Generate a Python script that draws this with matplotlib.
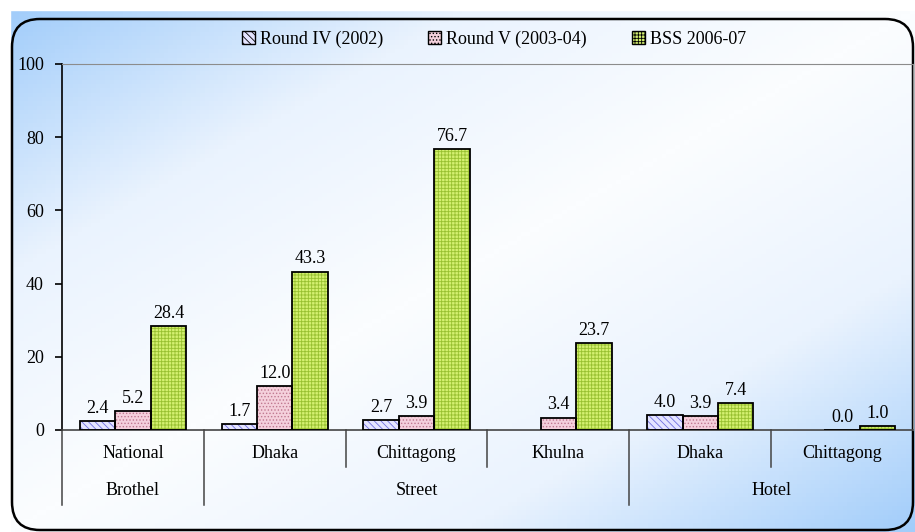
import numpy as np
import matplotlib
matplotlib.use("Agg")
import matplotlib.pyplot as plt
from matplotlib.patches import FancyBboxPatch, Patch
from matplotlib.colors import LinearSegmentedColormap
import matplotlib.transforms as mtransforms

# dati
cities = ['National', 'Dhaka', 'Chittagong', 'Khulna', 'Dhaka', 'Chittagong']
groups = ['Brothel', 'Street', 'Hotel']
group_span = [(0, 0), (1, 3), (4, 5)]
series_names = ['Round IV (2002)', 'Round V (2003-04)', 'BSS 2006-07']
round4 = [2.4, 1.7, 2.7, np.nan, 4.0, np.nan]
round5 = [5.2, 12.0, 3.9, 3.4, 3.9, 0.0]
bss = [28.4, 43.3, 76.7, 23.7, 7.4, 1.0]

plt.rcParams['font.family'] = 'Liberation Serif'
plt.rcParams['hatch.linewidth'] = 0.6
FS = 13

W, H = 915, 532
fig = plt.figure(figsize=(W / 100, H / 100), dpi=100)

# sfondo sfumato + cornice arrotondata
bg = fig.add_axes([0, 0, 1, 1], zorder=0)
bg.set_xlim(0, W)
bg.set_ylim(H, 0)
bg.axis('off')
xx, yy = np.meshgrid(np.linspace(0, 1, 200), np.linspace(0, 1, 120))
t = np.abs((xx + yy) / 2 - 0.5) * 2
cmap = LinearSegmentedColormap.from_list('bg', ['#fbfdff', '#eaf3fe', '#a2cdfa'])
bg.imshow(t, cmap=cmap, extent=(10, W, H, 10), aspect='auto', vmin=0, vmax=1)
bg.add_patch(plt.Rectangle((0, 0), 10, H, color='white', zorder=1))
bg.add_patch(plt.Rectangle((0, 0), W, 10, color='white', zorder=1))
frame = FancyBboxPatch((12, 19), 901, 511, boxstyle='round,pad=0,rounding_size=28',
                       fill=False, edgecolor='black', linewidth=1.8, zorder=2)
bg.add_patch(frame)

ax = fig.add_axes([62 / W, (H - 430) / H, 851 / W, 366 / H], zorder=1)
ax.set_facecolor('none')

x = np.arange(len(cities))
w = 0.25
styles = [
    ('#e4e4ff', '#7070e0', '\\\\\\\\\\'),
    ('#f4d0dc', '#c07890', '.....'),
    ('#d4f070', '#98c030', '+++++'),
]
data = [round4, round5, bss]
for i, (vals, (fc, hc, hatch)) in enumerate(zip(data, styles)):
    pos = x + (i - 1) * w
    ax.bar(pos, vals, w, color=fc, edgecolor=hc, hatch=hatch, linewidth=0, zorder=2)
    ax.bar(pos, vals, w, fill=False, edgecolor='black', linewidth=1.3, zorder=3)
    for p, v in zip(pos, vals):
        if np.isnan(v):
            continue
        ax.annotate(f'{v:.1f}', (p, v), xytext=(0, 3), textcoords='offset points',
                    ha='center', va='bottom', fontsize=FS)

ax.set_xlim(-0.5, len(cities) - 0.5)
ax.set_ylim(0, 100)
ax.set_yticks(range(0, 101, 20))
ax.tick_params(axis='y', labelsize=FS, length=5, width=1.2, pad=8)
ax.set_xticks([])
ax.spines['top'].set_color('#8c8c8c')
ax.spines['right'].set_color('#8c8c8c')
ax.spines['left'].set_linewidth(1.2)
ax.spines['bottom'].set_linewidth(1.2)
ax.spines['bottom'].set_color('#444444')

# etichette gerarchiche
trans = mtransforms.blended_transform_factory(ax.transData, ax.transAxes)
for i, c in enumerate(cities):
    ax.text(i, -0.063, c, transform=trans, ha='center', va='center', fontsize=FS)
for g, (a, b) in zip(groups, group_span):
    ax.text((a + b) / 2, -0.164, g, transform=trans, ha='center', va='center', fontsize=FS)
long_sep = [-0.5, 0.5, 3.5]
for s in np.arange(-0.5, len(cities), 1.0):
    if s >= len(cities) - 0.5:
        continue
    low = -0.205 if s in long_sep else -0.101
    ax.plot([s, s], [0, low], transform=trans, color='#444444', lw=1.1, clip_on=False)

handles = [Patch(facecolor=fc, edgecolor='black', hatch=h, linewidth=1) for fc, hc, h in styles]
fig.legend(handles, series_names, loc='center', bbox_to_anchor=(0.54, 1 - 39 / H), ncol=3,
           frameon=False, fontsize=FS, handlelength=0.7, handleheight=0.7,
           handletextpad=0.3, columnspacing=2.5)

fig.savefig('out.png', dpi=100)
